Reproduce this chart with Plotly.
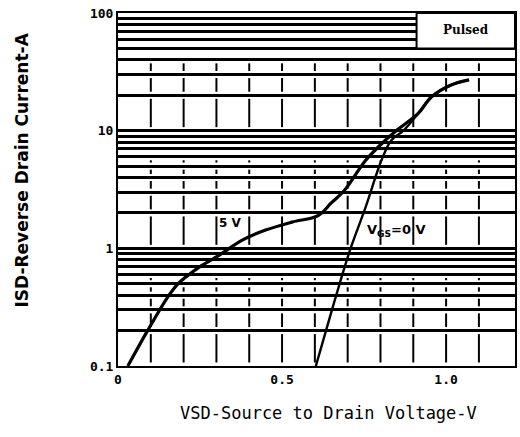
import math
import plotly.graph_objects as go

# ---- data ----
v_5v = [0.03, 0.088, 0.15, 0.18, 0.21, 0.25, 0.31, 0.38, 0.45, 0.53, 0.61, 0.65, 0.69, 0.755, 0.815, 0.848, 0.915, 0.955, 1.015, 1.07]
i_5v = [0.1, 0.195, 0.38, 0.49, 0.58, 0.70, 0.88, 1.18, 1.43, 1.67, 1.9, 2.43, 3.1, 5.6, 8.3, 10, 14, 19.3, 24.4, 27]

v_0v = [0.603, 0.634, 0.679, 0.709, 0.755, 0.803, 0.833, 0.87, 0.915, 0.955, 1.015, 1.07]
i_0v = [0.1, 0.2, 0.54, 1.0, 2.25, 5.6, 8.3, 10, 14, 19.3, 24.4, 27]

y_decades = [0.1, 1, 10, 100]
y_labels = ["0.1", "1", "10", "100"]
x_ticks = [0, 0.5, 1.0]
x_labels = ["0", "0.5", "1.0"]
x_grid = [0.1, 0.2, 0.3, 0.4, 0.5, 0.6, 0.7, 0.8, 0.9, 1.0, 1.1]

# all log grid values 0.1 .. 100
y_grid = []
for d in y_decades[:-1]:
    for m in range(1, 10):
        y_grid.append(round(d * m, 6))
y_grid.append(100)

BOX_X0 = 0.91
BOX_YLO = 50

# broken vertical grid segments between horizontal lines
gx, gy = [], []
g = 0.03
for xv in x_grid:
    for lo, hi in zip(y_grid[:-1], y_grid[1:]):
        if math.log10(hi / lo) < 0.07:
            continue
        if lo >= 40:
            continue
        gx += [xv, xv, None]
        gy += [lo * 10 ** g, hi / 10 ** g, None]

fig = go.Figure()
fig.add_trace(go.Scatter(x=gx, y=gy, mode="lines",
                         line=dict(color="black", width=2), hoverinfo="skip", showlegend=False))
# "Pulsed" box
fig.add_trace(go.Scatter(x=[BOX_X0, 1.21, 1.21, BOX_X0, BOX_X0], y=[BOX_YLO, BOX_YLO, 100, 100, BOX_YLO],
                         mode="lines", fill="toself", fillcolor="white",
                         line=dict(color="black", width=2), hoverinfo="skip", showlegend=False))
fig.add_trace(go.Scatter(x=v_5v, y=i_5v, mode="lines", line=dict(color="black", width=3.2, shape="spline"),
                         showlegend=False))
fig.add_trace(go.Scatter(x=v_0v, y=i_0v, mode="lines", line=dict(color="black", width=2.4, shape="spline"),
                         showlegend=False))

tick_font = dict(family="DejaVu Sans Mono", size=13, color="black", weight="bold")

fig.update_layout(
    width=520, height=437,
    margin=dict(l=118, r=3, t=13, b=71),
    paper_bgcolor="white", plot_bgcolor="white",
    xaxis=dict(range=[0, 1.21], tickvals=x_ticks, ticktext=x_labels, showgrid=False, zeroline=False,
               showline=True, linecolor="black", linewidth=2, mirror=True, ticks="",
               tickfont=tick_font),
    yaxis=dict(type="log", range=[-1, 2], tickvals=y_decades, ticktext=y_labels,
               showgrid=True, gridcolor="black", gridwidth=2.5, zeroline=False,
               showline=True, linecolor="black", linewidth=2, mirror=True, ticks="",
               minor=dict(tickvals=y_grid, showgrid=True, gridcolor="black", gridwidth=2.5, ticks=""),
               tickfont=tick_font),
    annotations=[
        dict(text="ISD-Reverse Drain Current-A", xref="paper", yref="paper", x=-0.2406, y=0.555,
             xanchor="center", yanchor="middle", textangle=-90, showarrow=False,
             font=dict(family="DejaVu Sans", size=17, color="black", weight="bold")),
        dict(text="VSD-Source to Drain Voltage-V", xref="paper", yref="paper", x=0.529, y=-0.133,
             xanchor="center", yanchor="middle",
             showarrow=False, font=dict(family="DejaVu Sans Mono", size=17, color="black")),
        dict(text="Pulsed", xref="x", yref="y", x=1.06, y=math.log10(72), showarrow=False,
             font=dict(family="DejaVu Serif", size=12, color="black", weight="bold")),
        dict(text="5 V", xref="x", yref="y", x=0.342, y=math.log10(1.64), showarrow=False,
             font=dict(family="DejaVu Sans", size=12, color="black", weight="bold")),
        dict(text="V<sub>GS</sub>=0 V", xref="x", yref="y", x=0.85, y=math.log10(1.43), showarrow=False,
             font=dict(family="DejaVu Sans", size=13, color="black", weight="bold")),
    ],
)

fig.write_html("out.html", config={"displayModeBar": False},
               post_script="document.body.style.margin='0';")
